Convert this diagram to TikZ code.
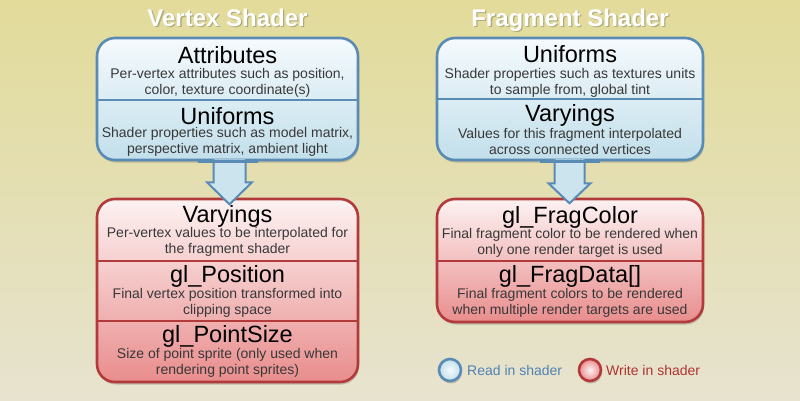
\documentclass[tikz,border=0pt]{standalone}
\usepackage{fontspec}
\setmainfont{Liberation Sans}
\usetikzlibrary{shadows,calc}

\definecolor{bgtop}{HTML}{E2DB9A}
\definecolor{bgmid}{HTML}{E4DFB4}
\definecolor{bgbot}{HTML}{E7E3CF}
\definecolor{blueline}{HTML}{5A8BB5}
\definecolor{bluetop}{HTML}{F5FAFD}
\definecolor{bluebot}{HTML}{C2DFEB}
\definecolor{redline}{HTML}{B23A3A}
\definecolor{redtop}{HTML}{FDF2F2}
\definecolor{redbot}{HTML}{E98D8D}
\definecolor{desctext}{HTML}{383838}
\definecolor{readtext}{HTML}{4F82B3}
\definecolor{writetext}{HTML}{B03333}

\begin{document}
\begin{tikzpicture}[x=1pt,y=-1pt,
  boxshadow/.style={drop shadow={shadow xshift=1pt,shadow yshift=-2.5pt,opacity=0.28,fill=black!70}},
  inbox/.style={draw=blueline,line width=2.6pt,rounded corners=18pt,top color=bluetop,bottom color=bluebot,boxshadow},
  outbox/.style={draw=redline,line width=2.6pt,rounded corners=18pt,top color=redtop,bottom color=redbot,boxshadow},
  bluediv/.style={draw=blueline,line width=1.4pt},
  reddiv/.style={draw=redline,line width=1.4pt},
  fatarrow/.style={draw=blueline,line width=2pt,fill=bluebot!85!white,line join=miter},
  shadertitle/.style={font=\bfseries\fontsize{24}{24}\selectfont,text=white,anchor=base,inner sep=0pt},
  titleshade/.style={font=\bfseries\fontsize{24}{24}\selectfont,text=black,opacity=0.22,anchor=base,inner sep=0pt},
  head/.style={font=\fontsize{23.5}{24}\selectfont,text=black,anchor=base,inner sep=0pt},
  desc/.style={font=\fontsize{14}{16}\selectfont,text=desctext,anchor=base,inner sep=0pt},
  legendtext/.style={font=\fontsize{14}{16}\selectfont,anchor=base west,inner sep=0pt},
]
% background
\useasboundingbox (0,0) rectangle (800,400);
\shade[top color=bgtop,bottom color=bgbot,middle color=bgmid] (0,0) rectangle (800,400);

% column titles
\node[titleshade] (vtitleshade) at (228.8,27.6) {Vertex Shader};
\node[shadertitle] (vtitle) at (227.5,26) {Vertex Shader};
\node[titleshade] (ftitleshade) at (571.3,27.6) {Fragment Shader};
\node[shadertitle] (ftitle) at (570,26) {Fragment Shader};

% output boxes (written by the shaders)
\node[outbox,minimum width=261pt,minimum height=183pt] (vsout) at (227.5,290.5) {};
\node[outbox,minimum width=266pt,minimum height=123pt] (fsout) at (570,260.5) {};
\draw[reddiv] (vsout.west |- 0,261) -- (vsout.east |- 0,261);
\draw[reddiv] (vsout.west |- 0,321) -- (vsout.east |- 0,321);
\draw[reddiv] (fsout.west |- 0,261) -- (fsout.east |- 0,261);

% input boxes (read by the shaders)
\node[inbox,minimum width=261pt,minimum height=122pt] (vsin) at (227.5,99) {};
\node[inbox,minimum width=266pt,minimum height=122pt] (fsin) at (570,99) {};
\draw[bluediv] (vsin.west |- 0,100) -- (vsin.east |- 0,100);
\draw[bluediv] (fsin.west |- 0,99) -- (fsin.east |- 0,99);

% flow arrows from inputs to outputs
\coordinate (va) at ($(vsin.south)+(2,0)$);
\coordinate (fa) at ($(fsin.south)+(-0.5,0)$);
\draw[fatarrow] ($(va)+(-16,-2)$) -- ($(va)+(-16,21)$) -- ($(va)+(-22.5,21)$)
  -- ($(va)+(0,43)$) -- ($(va)+(22.5,21)$) -- ($(va)+(16,21)$) -- ($(va)+(16,-2)$);
\draw[fatarrow] ($(fa)+(-15,-2)$) -- ($(fa)+(-15,22)$) -- ($(fa)+(-21,22)$)
  -- ($(fa)+(0,42)$) -- ($(fa)+(21,22)$) -- ($(fa)+(15,22)$) -- ($(fa)+(15,-2)$);
\draw[bluediv,line width=2.6pt] ($(vsin.south)+(-30,0)$) -- ($(vsin.south)+(30,0)$);
\draw[bluediv,line width=2.6pt] ($(fsin.south)+(-30,0)$) -- ($(fsin.south)+(30,0)$);

% vertex shader inputs
\node[head] (vattr) at (227.5,63) {Attributes};
\node[desc] (vattr1) at (227.5,78) {Per-vertex attributes such as position,};
\node[desc] (vattr2) at (227.5,94) {color, texture coordinate(s)};
\node[head] (vunif) at (227.5,124.5) {Uniforms};
\node[desc] (vunif1) at (227.5,137.5) {Shader properties such as model matrix,};
\node[desc] (vunif2) at (227.5,153.5) {perspective matrix, ambient light};

% vertex shader outputs
\node[head] (vvary) at (227.5,222) {Varyings};
\node[desc] (vvary1) at (227.5,237) {Per-vertex values to be interpolated for};
\node[desc] (vvary2) at (227.5,253) {the fragment shader};
\node[head] (vpos) at (227.5,282) {gl\_Position};
\node[desc] (vpos1) at (227.5,298) {Final vertex position transformed into};
\node[desc] (vpos2) at (227.5,314.5) {clipping space};
\node[head] (vsize) at (227.5,342) {gl\_PointSize};
\node[desc] (vsize1) at (227.5,358) {Size of point sprite (only used when};
\node[desc] (vsize2) at (227.5,374.5) {rendering point sprites)};

% fragment shader inputs
\node[head] (funif) at (570,62) {Uniforms};
\node[desc] (funif1) at (570,78) {Shader properties such as textures units};
\node[desc] (funif2) at (570,94) {to sample from, global tint};
\node[head] (fvary) at (570,121) {Varyings};
\node[desc] (fvary1) at (570,138) {Values for this fragment interpolated};
\node[desc] (fvary2) at (570,154) {across connected vertices};

% fragment shader outputs
\node[head] (fcol) at (570,223) {gl\_FragColor};
\node[desc] (fcol1) at (570,238) {Final fragment color to be rendered when};
\node[desc] (fcol2) at (570,254.5) {only one render target is used};
\node[head] (fdata) at (570,282) {gl\_FragData[]};
\node[desc] (fdata1) at (570,298) {Final fragment colors to be rendered};
\node[desc] (fdata2) at (570,314.5) {when multiple render targets are used};

% legend
\node[circle,draw=blueline,line width=2.6pt,minimum size=22pt,inner sep=0pt,
      inner color=bluetop,outer color=bluebot,boxshadow] (readdot) at (450,370) {};
\node[legendtext,text=readtext] (readlbl) at (467,375) {Read in shader};
\node[circle,draw=redline,line width=2.6pt,minimum size=22pt,inner sep=0pt,
      inner color=redtop,outer color=redbot,boxshadow] (writedot) at (590,370) {};
\node[legendtext,text=writetext] (writelbl) at (606,375) {Write in shader};
\end{tikzpicture}
\end{document}
